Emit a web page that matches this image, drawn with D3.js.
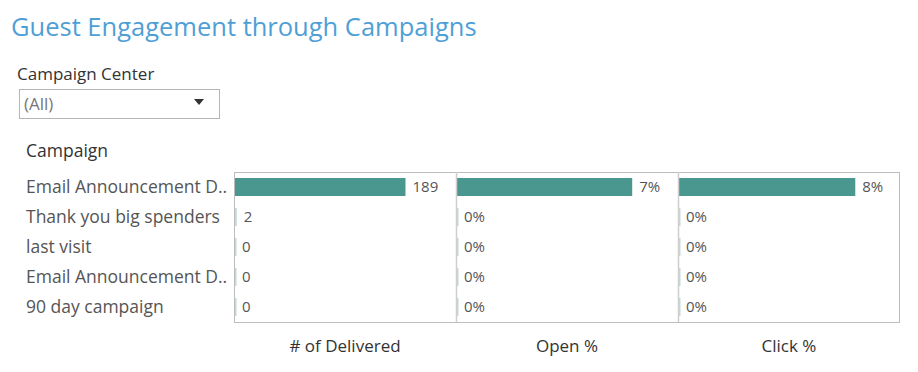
<!DOCTYPE html>
<html>
<head>
<meta charset="utf-8">
<script src="https://cdn.jsdelivr.net/npm/d3@7"></script>
<style>
  body { margin: 0; background: #fff; }
  svg text { font-family: "Open Sans", "Noto Sans", sans-serif; }
</style>
</head>
<body>
<div id="chart"></div>
<script>
// campaign rows, top to bottom
var campaigns = ["Email Announcement D..", "Thank you big spenders", "last visit", "Email Announcement D..", "90 day campaign"];
var delivered = [189, 2, 0, 0, 0];
var openPct = [0.07, 0, 0, 0, 0];
var clickPct = [0.08, 0, 0, 0, 0];
var measureNames = ["# of Delivered", "Open %", "Click %"];

var svgWidth = 918;
var svgHeight = 372;

var svg = d3.select("#chart")
  .append("svg")
  .attr("width", svgWidth)
  .attr("height", svgHeight);

// title + filter
svg.append("text")
  .attr("x", 11).attr("y", 36)
  .attr("fill", "#4f9fd6")
  .style("font-size", "25.5px")
  .text("Guest Engagement through Campaigns");

svg.append("text")
  .attr("x", 17).attr("y", 80)
  .attr("fill", "#333")
  .style("font-size", "17px")
  .text("Campaign Center");

svg.append("rect")
  .attr("x", 19.5).attr("y", 89.5)
  .attr("width", 200).attr("height", 29)
  .attr("fill", "#fff").attr("stroke", "#b5b5b5");

svg.append("text")
  .attr("x", 24).attr("y", 110)
  .attr("fill", "#777")
  .style("font-size", "17px")
  .text("(All)");

svg.append("path")
  .attr("d", "M194,99 L204,99 L199,105 Z")
  .attr("fill", "#333");

svg.append("text")
  .attr("x", 26).attr("y", 157)
  .attr("fill", "#333")
  .style("font-size", "17.5px")
  .text("Campaign");

// panes
var paneTop = 172, paneBottom = 322;
var paneLeft = 234, paneW = 222;

var y = d3.scaleBand()
  .domain(d3.range(campaigns.length))
  .range([paneTop, paneBottom])
  .paddingInner(0.4).paddingOuter(0.2);

// row labels
svg.selectAll(".rowlabel")
  .data(campaigns)
  .enter().append("text")
  .attr("class", "rowlabel")
  .attr("x", 26)
  .attr("y", (d, i) => y(i) + y.bandwidth() / 2)
  .attr("dy", "0.35em")
  .attr("fill", "#555")
  .style("font-size", "17.5px")
  .text(d => d);

var columns = [
  { name: measureNames[0], values: delivered, max: 245, fmt: d3.format("d") },
  { name: measureNames[1], values: openPct, max: 0.0883, fmt: d3.format(".0%") },
  { name: measureNames[2], values: clickPct, max: 0.1003, fmt: d3.format(".0%") }
];

columns.forEach(function(col, c) {
  var x0 = paneLeft + c * paneW;
  var x = d3.scaleLinear().domain([0, col.max]).range([x0 + 1, x0 + paneW]);

  var g = svg.append("g");

  g.selectAll("rect")
    .data(col.values)
    .enter().append("rect")
    .attr("x", x(0))
    .attr("y", (d, i) => y(i))
    .attr("width", d => Math.max(x(d) - x(0), 1.5))
    .attr("height", y.bandwidth())
    .attr("fill", "#4a9790")
    .attr("opacity", d => d > 0 && x(d) - x(0) > 3 ? 1 : 0.35);

  g.selectAll("text")
    .data(col.values)
    .enter().append("text")
    .attr("x", d => Math.max(x(d), x(0)) + 7)
    .attr("y", (d, i) => y(i) + y.bandwidth() / 2)
    .attr("dy", "0.35em")
    .attr("fill", "#555")
    .style("font-size", "15px")
    .text(d => col.fmt(d));

  svg.append("text")
    .attr("x", x0 + paneW / 2)
    .attr("y", 352)
    .attr("text-anchor", "middle")
    .attr("fill", "#333")
    .style("font-size", "17px")
    .text(col.name);
});

// pane borders
svg.append("rect")
  .attr("x", paneLeft + 0.5).attr("y", paneTop + 0.5)
  .attr("width", paneW * 3 - 1).attr("height", paneBottom - paneTop)
  .attr("fill", "none").attr("stroke", "#bdbdbd");

[1, 2].forEach(function(k) {
  svg.append("line")
    .attr("x1", paneLeft + k * paneW + 0.5).attr("x2", paneLeft + k * paneW + 0.5)
    .attr("y1", paneTop).attr("y2", paneBottom)
    .attr("stroke", "#cfcfcf").attr("stroke-width", 1.5);
});
</script>
</body>
</html>
